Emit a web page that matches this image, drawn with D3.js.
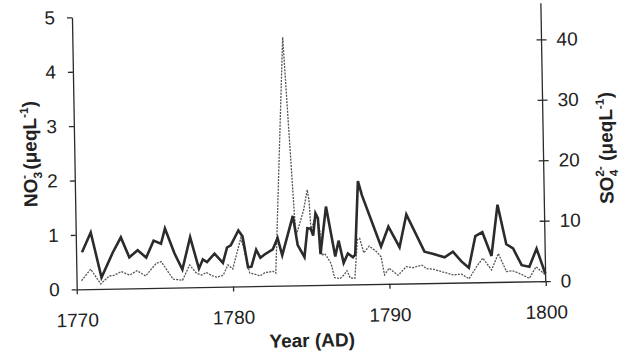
<!DOCTYPE html>
<html>
<head>
<meta charset="utf-8">
<script src="https://cdn.jsdelivr.net/npm/d3@7"></script>
<style>
  body { margin: 0; background: #fff; }
  svg { display: block; font-family: "Liberation Sans", Arial, sans-serif; }
  .axis path, .axis line { stroke: #2b2b2b; stroke-width: 1.3; }
  .axis text { fill: #222; font-size: 19px; }
  .title { fill: #222; font-size: 19px; font-weight: bold; }
</style>
</head>
<body>
<svg id="chart"></svg>
<script>
const xTicks = [1770, 1780, 1790, 1800];
const leftTicks = [0, 1, 2, 3, 4, 5];
const rightTicks = [0, 10, 20, 30, 40];

// NO3- (left axis, thick line)
const no3Years = [1770.38, 1770.96, 1771.6, 1772.34, 1772.88, 1773.4, 1773.94, 1774.48, 1774.97, 1775.44,
  1775.71, 1776.29, 1776.78, 1777.31, 1777.84, 1778.1, 1778.36, 1778.85, 1779.38, 1779.66,
  1779.9, 1780.4, 1780.66, 1780.98, 1781.2, 1781.52, 1781.78, 1782.05, 1782.58, 1782.9,
  1783.18, 1783.9, 1784.18, 1784.6, 1784.82, 1785.03, 1785.18, 1785.35, 1785.5, 1785.63,
  1786.03, 1786.57, 1786.8, 1787.1, 1787.38, 1787.7, 1787.85, 1788.1, 1788.34, 1789.51,
  1790.0, 1790.69, 1791.16, 1792.28, 1792.8, 1793.56, 1794.1, 1794.63, 1795.1, 1795.55,
  1796.0, 1796.56, 1797.0, 1797.52, 1797.95, 1798.48, 1798.97, 1799.45, 1799.98];
const no3Values = [0.68, 1.04, 0.21, 0.66, 0.94, 0.57, 0.70, 0.56, 0.87, 0.81,
  1.09, 0.63, 0.33, 0.92, 0.34, 0.51, 0.46, 0.61, 0.44, 0.72,
  0.76, 1.03, 0.92, 0.35, 0.36, 0.67, 0.52, 0.58, 0.67, 0.88,
  0.56, 1.28, 0.74, 0.52, 1.05, 1.04, 0.91, 1.32, 1.23, 0.57,
  1.44, 0.52, 0.81, 0.40, 0.57, 0.50, 0.55, 1.90, 1.64, 0.69,
  1.05, 0.67, 1.27, 0.58, 0.54, 0.47, 0.57, 0.39, 0.27, 0.85,
  0.92, 0.48, 1.42, 0.69, 0.61, 0.30, 0.27, 0.60, 0.14];

// SO4 2- (right axis, thin dotted line)
const so4Years = [1770.32, 1770.92, 1771.54, 1772.09, 1772.39, 1772.88, 1773.41, 1773.88, 1774.43, 1775.12,
  1775.44, 1776.18, 1776.78, 1777.25, 1777.68, 1778.0, 1778.32, 1778.64, 1778.96, 1779.38,
  1779.7, 1780.0, 1780.55, 1780.76, 1781.08, 1781.5, 1781.75, 1782.05, 1782.58, 1782.75,
  1783.45, 1784.0, 1784.1, 1784.6, 1784.85, 1784.95, 1785.05, 1785.4, 1785.5, 1785.63,
  1785.72, 1785.9, 1786.1, 1786.3, 1786.5, 1786.85, 1787.1, 1787.3, 1787.5, 1787.8,
  1788.0, 1788.15, 1788.4, 1788.75, 1789.2, 1789.5, 1789.7, 1790.0, 1790.57, 1791.1,
  1791.5, 1792.1, 1792.4, 1792.8, 1793.45, 1794.1, 1794.63, 1795.1, 1795.6, 1796.0,
  1796.55, 1797.0, 1797.5, 1797.9, 1798.45, 1798.95, 1799.4, 1800.0];
const so4Values = [1.4, 3.3, 0.8, 2.1, 2.2, 2.8, 2.2, 2.9, 2.0, 4.1,
  4.3, 1.4, 1.2, 3.7, 2.3, 2.0, 2.4, 1.9, 1.6, 1.9,
  3.6, 2.9, 8.0, 6.0, 2.2, 1.9, 1.7, 2.2, 2.4, 2.1,
  41.1, 11.9, 8.3, 12.5, 15.8, 14.1, 9.1, 11.8, 10.7, 8.5,
  4.9, 5.2, 4.4, 3.5, 1.2, 1.0, 1.6, 2.3, 1.1, 1.0,
  7.4, 7.6, 5.2, 6.3, 5.4, 4.5, 1.5, 2.6, 1.4, 2.8,
  2.6, 3.0, 2.4, 2.3, 1.8, 1.3, 1.4, 0.6, 2.6, 4.0,
  2.0, 4.7, 1.7, 1.8, 1.2, 0.5, 2.4, 1.0];

const width = 623;
const height = 357;
const plot = { left: 76.7, right: 545.8, top: 17.3, bottom: 289.3 };

const svg = d3.select("#chart")
  .attr("width", width)
  .attr("height", height);

// the scanned figure sits slightly tilted
const g = svg.append("g")
  .attr("transform", `rotate(-1, ${plot.left}, ${plot.bottom})`);

const x = d3.scaleLinear().domain([1770, 1800]).range([plot.left, plot.right]);
const yLeft = d3.scaleLinear().domain([0, 5]).range([plot.bottom, plot.top]);
const yRight = d3.scaleLinear().domain([0, 45]).range([plot.bottom, plot.top]);

// axes
const xAxis = g.append("g")
  .attr("class", "axis")
  .attr("transform", `translate(0,${plot.bottom})`)
  .call(d3.axisBottom(x).tickValues(xTicks).tickFormat(d3.format("d")).tickSizeInner(5).tickSizeOuter(0));
xAxis.selectAll("text").attr("y", 24).attr("dy", "0.71em");

const leftAxis = g.append("g")
  .attr("class", "axis")
  .attr("transform", `translate(${plot.left},0)`)
  .call(d3.axisLeft(yLeft).tickValues(leftTicks).tickFormat(d3.format("d")).tickSizeInner(5).tickSizeOuter(0));
leftAxis.selectAll("text").attr("x", -17);

const rightAxis = g.append("g")
  .attr("class", "axis")
  .attr("transform", `translate(${plot.right},0)`)
  .call(d3.axisRight(yRight).tickValues(rightTicks).tickFormat(d3.format("d")).tickSizeInner(5).tickSizeOuter(0));
rightAxis.selectAll(".tick line").attr("x1", -5).attr("x2", 5);
rightAxis.selectAll("text").attr("x", 15);
rightAxis.select(".domain").attr("d", `M0,${plot.bottom}V${plot.top - 6}`);

// lines
const no3Line = d3.line()
  .x((d, i) => x(no3Years[i]))
  .y(d => yLeft(d));
const so4Line = d3.line()
  .x((d, i) => x(so4Years[i]))
  .y(d => yRight(d));

g.append("path")
  .attr("d", so4Line(so4Values))
  .attr("fill", "none")
  .attr("stroke", "#555")
  .attr("stroke-width", 1.3)
  .attr("stroke-dasharray", "2,1.2");

g.append("path")
  .attr("d", no3Line(no3Values))
  .attr("fill", "none")
  .attr("stroke", "#2b2b2b")
  .attr("stroke-width", 2.6)
  .attr("stroke-linejoin", "miter");

// titles
g.append("text")
  .attr("class", "title")
  .attr("x", (plot.left + plot.right) / 2)
  .attr("y", 351)
  .attr("text-anchor", "middle")
  .text("Year (AD)");

// unit title with a stacked sub/superscript after the ion name
function unitTitle(t, ion, sub, sup) {
  t.append("tspan").text(ion);
  t.append("tspan").attr("font-size", 12).attr("dy", 5).text(sub);
  t.append("tspan").attr("font-size", 12).attr("dx", -7).attr("dy", -14).text(sup);
  t.append("tspan").attr("dy", 9).text("\u00a0(\u03bceqL");
  t.append("tspan").attr("font-size", 12).attr("dy", -8).text("-1");
  t.append("tspan").attr("dy", 8).text(")");
}

const leftTitle = g.append("text")
  .attr("class", "title")
  .attr("transform", `translate(39,${(plot.top + plot.bottom) / 2}) rotate(-90)`)
  .attr("text-anchor", "middle");
unitTitle(leftTitle, "NO", "3", "-");

const rightTitle = g.append("text")
  .attr("class", "title")
  .attr("transform", `translate(615,${(plot.top + plot.bottom) / 2 + 4}) rotate(-90)`)
  .attr("text-anchor", "middle");
unitTitle(rightTitle, "SO", "4", "2-");
</script>
</body>
</html>
